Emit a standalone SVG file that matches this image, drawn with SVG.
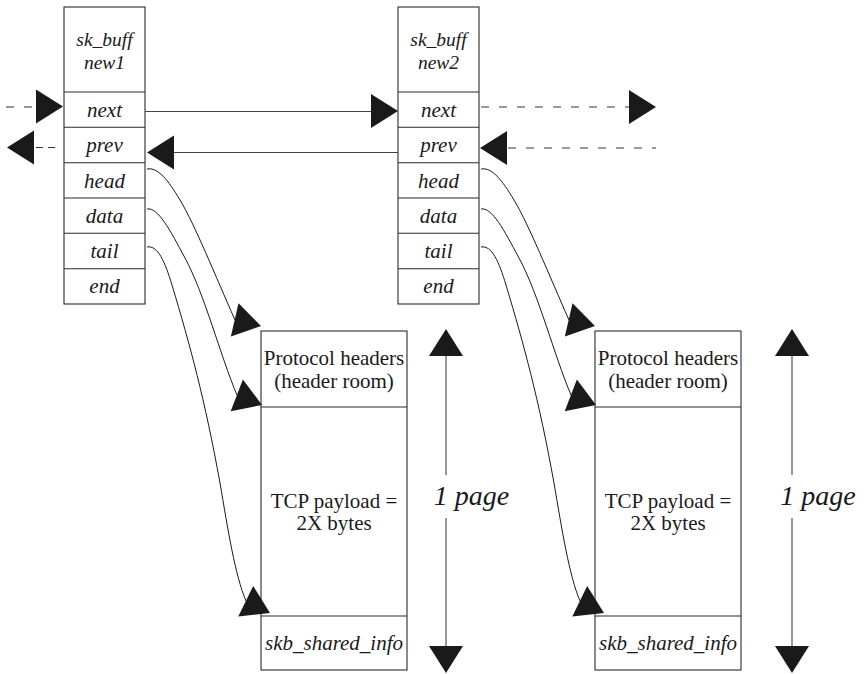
<svg xmlns="http://www.w3.org/2000/svg" xmlns:xlink="http://www.w3.org/1999/xlink" width="864" height="674" viewBox="0 0 864 674">
<style>
  .box { fill: #fff; stroke: #2a2a2a; stroke-width: 1.1; }
  .sep { stroke: #2a2a2a; stroke-width: 1.1; }
  .it { font-family: "Liberation Serif", "DejaVu Serif", serif; font-style: italic; font-size: 21px; fill: #1a1a1a; text-anchor: middle; }
  .ttl { font-family: "Liberation Serif", "DejaVu Serif", serif; font-style: italic; font-size: 19.5px; fill: #1a1a1a; text-anchor: middle; }
  .rm { font-family: "Liberation Serif", "DejaVu Serif", serif; font-size: 21px; fill: #1a1a1a; text-anchor: middle; }
  .pg { font-family: "Liberation Serif", "DejaVu Serif", serif; font-style: italic; font-size: 28px; fill: #1a1a1a; text-anchor: middle; }
  .solid { fill: none; stroke: #444; stroke-width: 1.1; }
  .dash { fill: none; stroke: #333; stroke-width: 1.1; stroke-dasharray: 8 10; }
  .dash2 { fill: none; stroke: #333; stroke-width: 1.1; stroke-dasharray: 7 5; }
  .curve { fill: none; stroke: #1a1a1a; stroke-width: 1; }
  .head { fill: #1a1a1a; }
</style>
<defs>
  <path id="ah" class="head" d="M0,0 L-27,-17 L-27,17 Z"/>
</defs>

<g id="node-new1">
  <rect class="box" x="64" y="7" width="81" height="297"/>
  <line class="sep" x1="64" y1="92" x2="145" y2="92"/>
  <line class="sep" x1="64" y1="127.3" x2="145" y2="127.3"/>
  <line class="sep" x1="64" y1="162.7" x2="145" y2="162.7"/>
  <line class="sep" x1="64" y1="198" x2="145" y2="198"/>
  <line class="sep" x1="64" y1="233.3" x2="145" y2="233.3"/>
  <line class="sep" x1="64" y1="268.7" x2="145" y2="268.7"/>
  <text class="ttl" x="104.5" y="46">sk_buff</text>
  <text class="ttl" x="104.5" y="69">new1</text>
  <text class="it" x="104.5" y="117">next</text>
  <text class="it" x="104.5" y="152">prev</text>
  <text class="it" x="104.5" y="188">head</text>
  <text class="it" x="104.5" y="223">data</text>
  <text class="it" x="104.5" y="258">tail</text>
  <text class="it" x="104.5" y="293">end</text>
</g>

<g id="node-new2">
  <rect class="box" x="398" y="7" width="81" height="297"/>
  <line class="sep" x1="398" y1="92" x2="479" y2="92"/>
  <line class="sep" x1="398" y1="127.3" x2="479" y2="127.3"/>
  <line class="sep" x1="398" y1="162.7" x2="479" y2="162.7"/>
  <line class="sep" x1="398" y1="198" x2="479" y2="198"/>
  <line class="sep" x1="398" y1="233.3" x2="479" y2="233.3"/>
  <line class="sep" x1="398" y1="268.7" x2="479" y2="268.7"/>
  <text class="ttl" x="438.5" y="46">sk_buff</text>
  <text class="ttl" x="438.5" y="69">new2</text>
  <text class="it" x="438.5" y="117">next</text>
  <text class="it" x="438.5" y="152">prev</text>
  <text class="it" x="438.5" y="188">head</text>
  <text class="it" x="438.5" y="223">data</text>
  <text class="it" x="438.5" y="258">tail</text>
  <text class="it" x="438.5" y="293">end</text>
</g>

<g id="page1">
  <rect class="box" x="261" y="331" width="146" height="339"/>
  <line class="sep" x1="261" y1="407" x2="407" y2="407"/>
  <line class="sep" x1="261" y1="616" x2="407" y2="616"/>
  <text class="rm" x="334" y="365">Protocol headers</text>
  <text class="rm" x="334" y="388">(header room)</text>
  <text class="rm" x="334" y="508">TCP payload =</text>
  <text class="rm" x="334" y="530">2X bytes</text>
  <text class="it" x="334" y="650">skb_shared_info</text>
</g>

<g id="page2">
  <rect class="box" x="595" y="331" width="146" height="339"/>
  <line class="sep" x1="595" y1="407" x2="741" y2="407"/>
  <line class="sep" x1="595" y1="616" x2="741" y2="616"/>
  <text class="rm" x="668" y="365">Protocol headers</text>
  <text class="rm" x="668" y="388">(header room)</text>
  <text class="rm" x="668" y="508">TCP payload =</text>
  <text class="rm" x="668" y="530">2X bytes</text>
  <text class="it" x="668" y="650">skb_shared_info</text>
</g>

<g id="page-size1">
  <line class="solid" x1="446" y1="356" x2="446" y2="475"/>
  <line class="solid" x1="446" y1="518" x2="446" y2="647"/>
  <use xlink:href="#ah" transform="translate(446,329) rotate(-90)"/>
  <use xlink:href="#ah" transform="translate(446,673) rotate(90)"/>
  <text class="pg" x="471.5" y="505">1 page</text>
</g>

<g id="page-size2">
  <line class="solid" x1="792" y1="356" x2="792" y2="475"/>
  <line class="solid" x1="792" y1="518" x2="792" y2="647"/>
  <use xlink:href="#ah" transform="translate(792,329) rotate(-90)"/>
  <use xlink:href="#ah" transform="translate(792,673) rotate(90)"/>
  <text class="pg" x="818" y="505">1 page</text>
</g>

<g id="connectors">
  <!-- list links -->
  <line class="solid" x1="145" y1="111.5" x2="373" y2="111.5"/>
  <use xlink:href="#ah" transform="translate(398,111)"/>
  <line class="solid" x1="398" y1="152.5" x2="172" y2="152.5"/>
  <use xlink:href="#ah" transform="translate(147,152.5) rotate(180)"/>
  <line class="dash" x1="6" y1="107" x2="37" y2="107"/>
  <use xlink:href="#ah" transform="translate(63,106.5)"/>
  <line class="dash2" x1="36" y1="147.5" x2="55" y2="147.5"/>
  <use xlink:href="#ah" transform="translate(7,147.5) rotate(180)"/>
  <line class="dash" x1="481" y1="107" x2="630" y2="107"/>
  <use xlink:href="#ah" transform="translate(656,107)"/>
  <line class="dash" x1="508" y1="148" x2="656" y2="148"/>
  <use xlink:href="#ah" transform="translate(480,148) rotate(180)"/>

  <!-- pointers new1 -->
  <path class="curve" d="M147,169 C158,167 168,180 180,200 C195,225 215,275 235,320"/>
  <use xlink:href="#ah" transform="translate(261,326) rotate(13)"/>
  <path class="curve" d="M147,209 C158,207 170,230 185,258 C205,295 220,355 237,395"/>
  <use xlink:href="#ah" transform="translate(262,405) rotate(21)"/>
  <path class="curve" d="M147,247 C158,245 165,262 172,285 C190,345 205,400 220,483 C228,530 235,575 246,601"/>
  <use xlink:href="#ah" transform="translate(270,613) rotate(26)"/>

  <!-- pointers new2 -->
  <path class="curve" d="M481,169 C492,167 502,180 514,200 C529,225 549,275 569,320"/>
  <use xlink:href="#ah" transform="translate(595,326) rotate(13)"/>
  <path class="curve" d="M481,209 C492,207 504,230 519,258 C539,295 554,355 571,395"/>
  <use xlink:href="#ah" transform="translate(596,405) rotate(21)"/>
  <path class="curve" d="M481,247 C492,245 499,262 506,285 C524,345 539,400 554,483 C562,530 569,575 580,601"/>
  <use xlink:href="#ah" transform="translate(604,613) rotate(26)"/>
</g>
</svg>
